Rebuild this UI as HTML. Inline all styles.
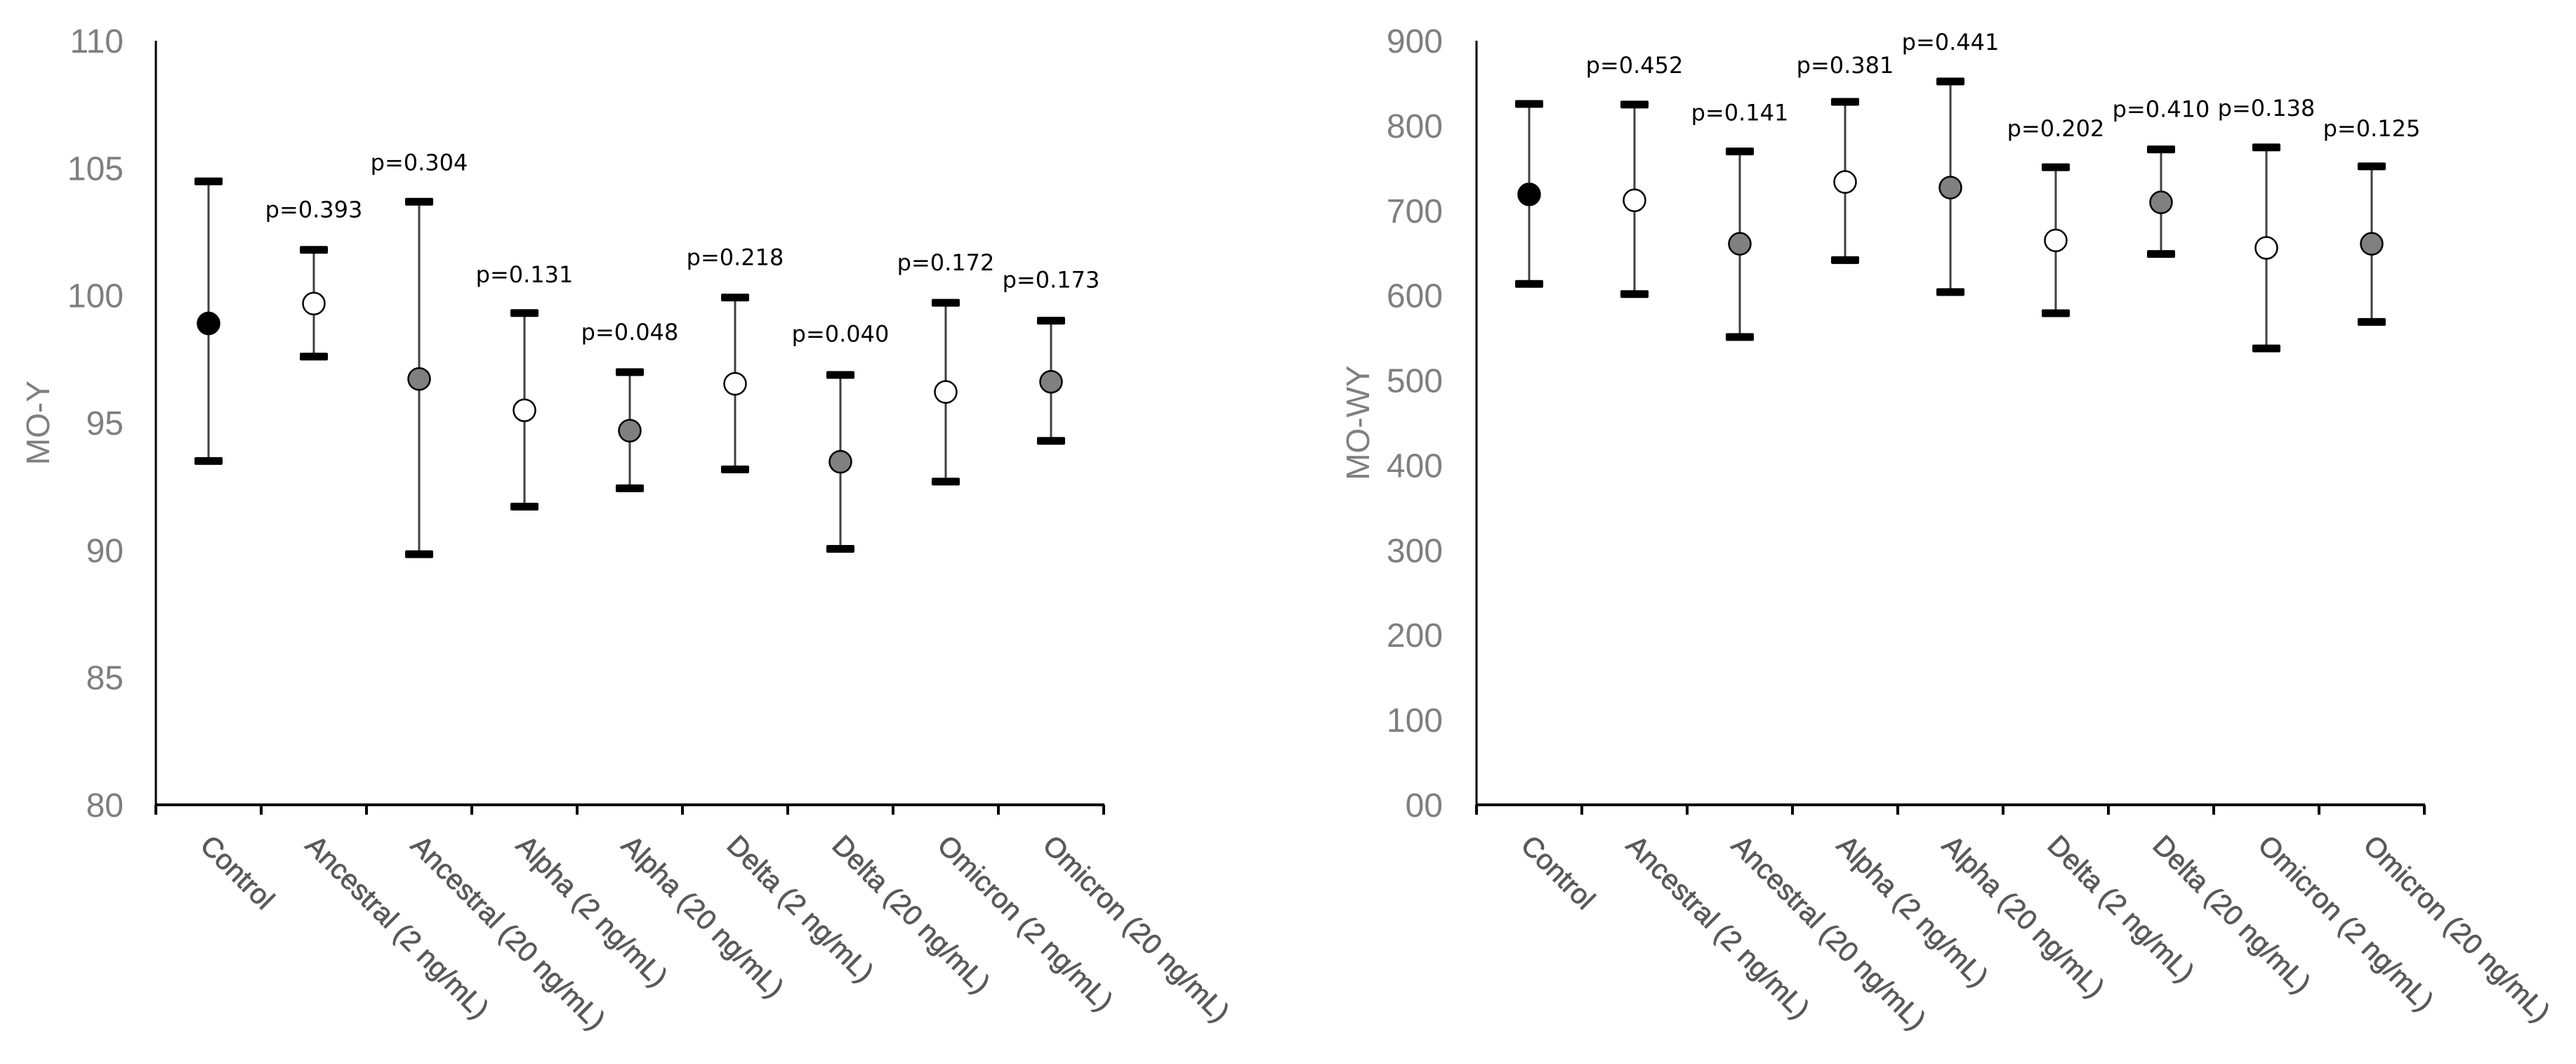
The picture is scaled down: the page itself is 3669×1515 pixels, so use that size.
<!DOCTYPE html>
<html><head><meta charset="utf-8">
<style>
html,body{margin:0;padding:0;background:#fff;}
svg{display:block;}
</style></head>
<body>
<svg id="chart" width="3669" height="1515" viewBox="0 0 3669 1515" xmlns="http://www.w3.org/2000/svg"></svg>
<script>
const categories = ["Control","Ancestral (2 ng/mL)","Ancestral (20 ng/mL)","Alpha (2 ng/mL)","Alpha (20 ng/mL)","Delta (2 ng/mL)","Delta (20 ng/mL)","Omicron (2 ng/mL)","Omicron (20 ng/mL)"];
const fills = ["#000000","#ffffff","#808080","#ffffff","#808080","#ffffff","#808080","#ffffff","#808080"];
const leftMean = [98.9,99.68,96.72,95.49,94.69,96.53,93.47,96.21,96.61];
const leftUpper = [104.48,101.79,103.68,99.31,96.99,99.92,96.88,99.71,99.01];
const leftLower = [93.5,97.6,89.84,91.71,92.43,93.17,90.05,92.69,94.29];
const leftP = ["","p=0.393","p=0.304","p=0.131","p=0.048","p=0.218","p=0.040","p=0.172","p=0.173"];
const leftPY = [0,103.39,105.25,100.85,98.59,101.52,98.51,101.31,100.64];
const leftTicks = [80,85,90,95,100,105,110];
const rightMean = [719,712,660.8,733.6,727,664.8,709.6,656,660.8];
const rightUpper = [825.6,824.8,769.6,828,852,751,772,774.4,752];
const rightLower = [613.6,601.6,551,641.6,604,579,648.8,537.6,568.8];
const rightP = ["","p=0.452","p=0.141","p=0.381","p=0.441","p=0.202","p=0.410","p=0.138","p=0.125"];
const rightPY = [0,872,816,872,899,797.6,820,821.6,797.6];
const rightTicks = [0,100,200,300,400,500,600,700,800,900];
const rightTickLabels = ["00","100","200","300","400","500","600","700","800","900"];

const NS = "http://www.w3.org/2000/svg";
const svg = document.getElementById('chart');
function mk(tag, attrs, parent){
  const e = document.createElementNS(NS, tag);
  for (const k in attrs) e.setAttribute(k, attrs[k]);
  (parent||svg).appendChild(e);
  return e;
}

function drawChart(cfg){
  const g = mk('g', {});
  
  
  const x0 = cfg.x0, step = 150, yBot = 1146, yTop = 58;
  const n = categories.length;
  const yScale = v => yBot - (v - cfg.min) / (cfg.max - cfg.min) * (yBot - yTop);
  const xScale = i => x0 + step * (i + 0.5);
  const ya = mk('line', {x1:x0, y1:yTop, x2:x0, y2:yBot, stroke:'#000', 'stroke-width':3}, g);
  
  
  const xa = mk('line', {x1:x0-1, y1:yBot, x2:x0+step*n+1, y2:yBot, stroke:'#000', 'stroke-width':4}, g);
  
  
  for (let i=0;i<=n;i++){
    const t = mk('line', {x1:x0+step*i, y1:yBot, x2:x0+step*i, y2:yBot+14, stroke:'#000', 'stroke-width':4}, g);
    
    
  }
  cfg.ticks.forEach((v,i)=>{
    const t = mk('text', {x:cfg.labelRight, y:yScale(v)+17, 'text-anchor':'end', 'font-family':'Liberation Sans, sans-serif', 'font-size':48, fill:'#7f7f7f'}, g);
    t.textContent = cfg.tickLabels[i];
    
    
  });
  const yt = mk('text', {x:cfg.titleX, y:(yTop+yBot)/2, 'text-anchor':'middle', 'font-family':'Liberation Sans, sans-serif', 'font-size':46, fill:'#7f7f7f', transform:`rotate(-90 ${cfg.titleX} ${(yTop+yBot)/2})`}, g);
  yt.textContent = cfg.title;
  
  
  categories.forEach((c,i)=>{
    const ox = xScale(i) - 14, oy = yBot + 60;
    const t = mk('text', {x:ox, y:oy, 'font-family':'Liberation Sans, sans-serif', 'font-size':40, fill:'#595959', stroke:'#595959', 'stroke-width':0.8, transform:`rotate(45 ${ox} ${oy})`}, g);
    t.textContent = c;
    
    
  });
  for (let i=0;i<n;i++){
    const cx = xScale(i);
    const yu = yScale(cfg.upper[i]), yl = yScale(cfg.lower[i]), ym = yScale(cfg.mean[i]);
    const s = mk('line', {x1:cx, y1:yu, x2:cx, y2:yl, stroke:'#404040', 'stroke-width':3}, g);
    
    
    [yu, yl].forEach(yy=>{
      const c = mk('rect', {x:cx-20, y:yy-5.5, width:40, height:11, rx:2, fill:'#000'}, g);
      
      
    });
    const m = mk('circle', {cx:cx, cy:ym, r:15.5, fill:fills[i], stroke:'#000', 'stroke-width':2.5}, g);
    
    
    if (cfg.p[i]){
      const p = mk('text', {x:cx, y:yScale(cfg.py[i])+12, 'text-anchor':'middle', 'font-family':'DejaVu Sans, sans-serif', 'font-size':32, fill:'#000'}, g);
      p.textContent = cfg.p[i];
      
      
    }
  }
}

drawChart({name:'mo-y-chart', x0:222, min:80, max:110, ticks:leftTicks, tickLabels:leftTicks.map(String), labelRight:176, titleX:70, title:'MO-Y', mean:leftMean, upper:leftUpper, lower:leftLower, p:leftP, py:leftPY});
drawChart({name:'mo-wy-chart', x0:2103, min:0, max:900, ticks:rightTicks, tickLabels:rightTickLabels, labelRight:2055, titleX:1950, title:'MO-WY', mean:rightMean, upper:rightUpper, lower:rightLower, p:rightP, py:rightPY});
</script>
</body></html>
